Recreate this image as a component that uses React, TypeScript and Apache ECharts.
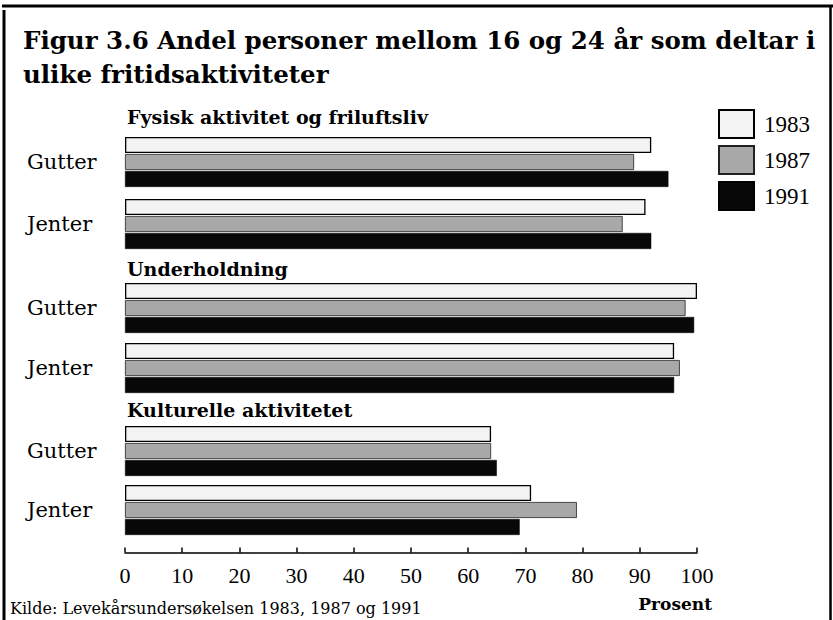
import React, { useEffect, useRef } from "react";
import * as echarts from "echarts";

const years = ["1983", "1987", "1991"];
const groups = ["Fysisk aktivitet og friluftsliv", "Underholdning", "Kulturelle aktivitetet"];
const categories = ["Gutter", "Jenter"];
// values per group: [year][category]
const fysisk = [
  [92, 91],
  [89, 87],
  [95, 92],
];
const underholdning = [
  [100, 96],
  [98, 97],
  [99.5, 96],
];
const kulturelle = [
  [64, 71],
  [64, 79],
  [65, 69],
];
const xTicks = [0, 10, 20, 30, 40, 50, 60, 70, 80, 90, 100];

const SERIF = "'Liberation Serif', serif";
const WIDE = "'DejaVu Serif', serif";

export default function App() {
  const ref = useRef<HTMLDivElement>(null);
  useEffect(() => {
    if (!ref.current) return;
    const chart = echarts.init(ref.current, null, { renderer: "svg" });
    const groupData = [fysisk, underholdning, kulturelle];
    const grids = [
      { left: 125, width: 572, top: 131, height: 124 },
      { left: 125, width: 572, top: 278, height: 120 },
      { left: 125, width: 572, top: 421.5, height: 118 },
    ];
    const yearStyles = [
      { color: "#f3f3f3", borderColor: "#000", borderWidth: 1.3 },
      { color: "#a8a8a8", borderColor: "#222", borderWidth: 0.8 },
      { color: "#080808", borderColor: "#000", borderWidth: 0.5 },
    ];
    const xAxes = grids.map((_, i) => ({
      type: "value",
      gridIndex: i,
      min: 0,
      max: 100,
      interval: 10,
      show: i === 2,
      offset: 13,
      splitLine: { show: false },
      axisLine: { show: true, lineStyle: { color: "#000", width: 1.5 } },
      axisTick: { show: true, inside: true, length: 5, lineStyle: { color: "#000", width: 1.5 } },
      axisLabel: {
        color: "#000",
        fontSize: 22,
        fontFamily: SERIF,
        margin: 12,
        formatter: (v: number) => (xTicks.includes(v) ? String(v) : ""),
      },
    }));
    const yAxes = grids.map((_, i) => ({
      type: "category",
      gridIndex: i,
      data: categories,
      inverse: true,
      axisLine: { show: false },
      axisTick: { show: false },
      axisLabel: {
        color: "#000",
        fontSize: 21,
        fontFamily: WIDE,
        align: "left",
        margin: 98,
        padding: [0, 0, 8, 0],
      },
    }));
    const series: any[] = [];
    groupData.forEach((gd, gi) => {
      years.forEach((y, yi) => {
        series.push({
          type: "bar",
          name: y,
          xAxisIndex: gi,
          yAxisIndex: gi,
          data: gd[yi],
          barWidth: 16,
          barGap: "6%",
          itemStyle: yearStyles[yi],
        });
      });
    });
    const headingTop = [107, 259, 400];
    chart.setOption({
      animation: false,
      backgroundColor: "#fff",
      title: {
        text: "Figur 3.6 Andel personer mellom 16 og 24 år som deltar i\nulike fritidsaktiviteter",
        left: 18,
        top: 18,
        textStyle: {
          color: "#000",
          fontSize: 24.5,
          fontWeight: "bold",
          fontFamily: WIDE,
          lineHeight: 34,
        },
      },
      legend: {
        data: years.map((y) => ({ name: y, icon: "rect" })),
        orient: "vertical",
        left: 713,
        top: 104,
        itemWidth: 35,
        itemHeight: 28,
        itemGap: 6,
        textStyle: { color: "#000", fontSize: 23, fontFamily: SERIF, lineHeight: 28, padding: [0, 0, 0, 5] },
      },
      grid: grids,
      xAxis: xAxes,
      yAxis: yAxes,
      series,
      graphic: [
        { type: "line", shape: { x1: 2, y1: 6, x2: 833, y2: 6 }, style: { stroke: "#000", lineWidth: 3 } },
        { type: "line", shape: { x1: 4, y1: 10, x2: 4, y2: 620 }, style: { stroke: "#000", lineWidth: 3 } },
        { type: "line", shape: { x1: 830.5, y1: 5, x2: 830.5, y2: 620 }, style: { stroke: "#000", lineWidth: 2.5 } },
        ...groups.map((g, i) => ({
          type: "text",
          left: 127,
          top: headingTop[i],
          style: { text: g, fill: "#000", fontSize: 19, fontWeight: "bold", fontFamily: WIDE },
        })),
        {
          type: "text",
          right: 833 - 712,
          top: 595,
          style: { text: "Prosent", fill: "#000", fontSize: 17, fontWeight: "bold", fontFamily: WIDE },
        },
        {
          type: "text",
          left: 10,
          top: 600,
          style: { text: "Kilde: Levekårsundersøkelsen 1983, 1987 og 1991", fill: "#000", fontSize: 16, fontFamily: WIDE },
        },
      ],
    });
    return () => chart.dispose();
  }, []);
  return (
    <div
      ref={ref}
      style={{ position: "absolute", left: 0, top: 0, width: 833, height: 620 }}
    />
  );
}
